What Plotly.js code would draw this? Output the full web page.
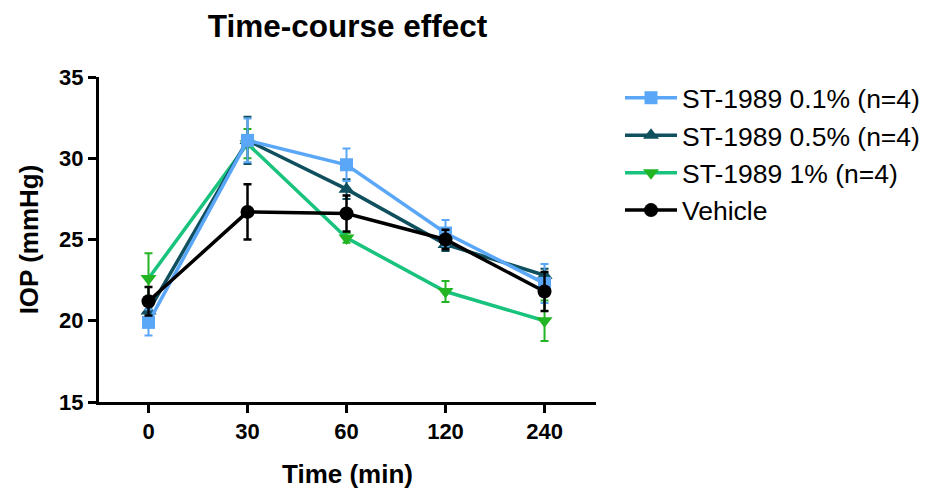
<!DOCTYPE html>
<html>
<head>
<meta charset="utf-8">
<script src="https://cdn.plot.ly/plotly-3.0.1.min.js"></script>
<style>html,body{margin:0;padding:0;background:#fff;}#chart{width:933px;height:489px;}</style>
</head>
<body>
<div id="chart"></div>
<script>
const timeLabels = ['0', '30', '60', '120', '240'];

const seriesNames = ['ST-1989 0.1% (n=4)', 'ST-1989 0.5% (n=4)', 'ST-1989 1% (n=4)', 'Vehicle'];

const st01Mean = [19.9, 31.1, 29.6, 25.4, 22.3];
const st01Sem  = [0.8, 1.35, 1.0, 0.8, 1.2];

const st05Mean = [20.6, 31.1, 28.1, 24.7, 22.8];
const st05Sem  = [0.5, 1.45, 0.6, 0.4, 0.4];

const st1Mean  = [22.6, 30.9, 25.1, 21.8, 20.0];
const st1Sem   = [1.55, 0.9, 0.3, 0.65, 1.25];

const vehMean  = [21.2, 26.7, 26.6, 25.0, 21.8];
const vehSem   = [0.87, 1.7, 1.1, 0.6, 1.2];

const FONT = 'Liberation Sans, Arial, sans-serif';

function mk(name, y, err, lineColor, markerColor, symbol, msize, rank, errThick) {
  return {
    type: 'scatter', mode: 'lines+markers', name: name,
    x: timeLabels, y: y,
    line: {color: lineColor, width: 3.5},
    marker: {color: markerColor, symbol: symbol, size: msize},
    error_y: {type: 'data', array: err, visible: true, color: markerColor, thickness: errThick, width: 4},
    legendrank: rank
  };
}

const traces = [
  mk(seriesNames[2], st1Mean, st1Sem, '#19C37D', '#22B422', 'triangle-down', 14, 3, 2),
  mk(seriesNames[1], st05Mean, st05Sem, '#0F4F5E', '#0F4F5E', 'triangle-up', 14, 2, 2),
  mk(seriesNames[0], st01Mean, st01Sem, '#5AA6F7', '#5AA6F7', 'square', 13, 1, 2),
  mk(seriesNames[3], vehMean, vehSem, '#000000', '#000000', 'circle', 14, 4, 2.5)
];

const layout = {
  width: 933, height: 489,
  margin: {l: 99, r: 337, t: 77, b: 87, autoexpand: false},
  paper_bgcolor: '#ffffff', plot_bgcolor: '#ffffff',
  font: {family: FONT, color: '#000'},
  title: {text: 'Time-course effect', font: {family: FONT, size: 31.5, weight: 'bold', color: '#000'},
          x: 0.5, xref: 'paper', xanchor: 'center', y: 1 - 26/489, yref: 'container', yanchor: 'middle'},
  xaxis: {
    type: 'category', range: [-0.5, 4.52], automargin: false,
    showline: true, linecolor: '#000', linewidth: 3, mirror: false,
    showgrid: false, zeroline: false,
    ticks: 'outside', ticklen: 8, tickwidth: 3, tickcolor: '#000',
    tickfont: {family: FONT, size: 22, weight: 'bold', color: '#000'},
    title: {text: 'Time (min)', font: {family: FONT, size: 26, weight: 'bold', color: '#000'}, standoff: 24}
  },
  yaxis: {
    range: [15, 35], dtick: 5, tick0: 15, automargin: false,
    showline: true, linecolor: '#000', linewidth: 3,
    showgrid: false, zeroline: false,
    ticks: 'outside', ticklen: 8, tickwidth: 3, tickcolor: '#000',
    tickfont: {family: FONT, size: 22, weight: 'bold', color: '#000'},
    title: {text: 'IOP (mmHg)', font: {family: FONT, size: 26, weight: 'bold', color: '#000'}, standoff: 14}
  },
  showlegend: true,
  legend: {
    x: (620 - 99) / 497, xanchor: 'left', y: 1 + 3/325, yanchor: 'top',
    font: {family: FONT, size: 26.5, color: '#000'},
    bgcolor: 'rgba(0,0,0,0)', tracegroupgap: 0, itemwidth: 52
  }
};

Plotly.newPlot('chart', traces, layout, {displayModeBar: false, staticPlot: true});
</script>
</body>
</html>
